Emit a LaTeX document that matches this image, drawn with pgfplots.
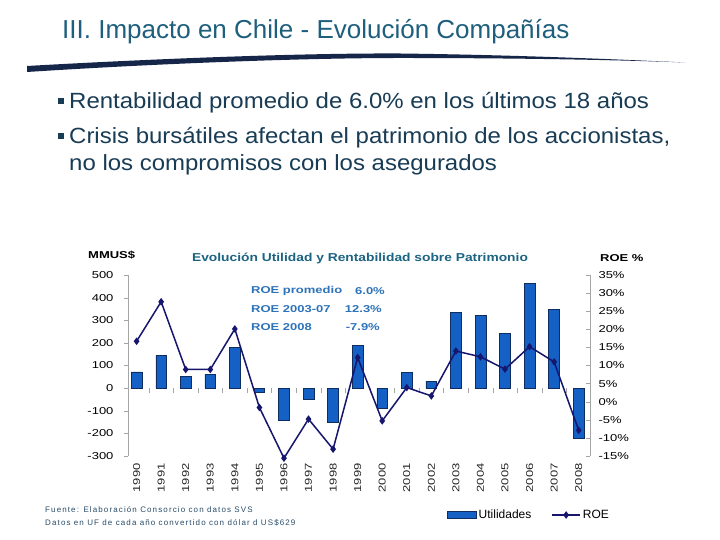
\documentclass[border=0pt]{standalone}
\usepackage{pgfplots}
\pgfplotsset{compat=1.18}
\usepackage{fontspec}
\setmainfont{Liberation Sans}
\newfontfamily\tickfont[FakeStretch=1.3]{Liberation Sans}
\newfontfamily\titfont[FakeStretch=1.2]{Liberation Sans}
\newfontfamily\bulfont[FakeStretch=1.09]{Liberation Sans}
\newfontfamily\footfont[LetterSpace=14]{Liberation Sans}
\definecolor{barblue}{RGB}{20,96,196}
\definecolor{bardark}{RGB}{15,45,95}
\definecolor{roenavy}{RGB}{22,22,110}
\definecolor{titleteal}{RGB}{30,95,125}
\definecolor{charttitle}{RGB}{28,100,130}
\definecolor{roeblue}{RGB}{45,115,185}
\definecolor{bullettext}{RGB}{25,60,85}
\definecolor{axisgray}{RGB}{165,165,165}
\definecolor{swoosh}{RGB}{22,38,72}
\definecolor{footcol}{RGB}{40,75,105}
\pgfplotsset{
  lineleg/.style={legend image code/.code={\draw[mark repeat=2,mark phase=2,##1] plot coordinates {(0pt,0pt) (14pt,0pt) (28pt,0pt)};}},
  barleg/.style={legend image code/.code={\fill[barblue, draw=bardark, line width=0.6pt] (0pt,-3.5pt) rectangle (29pt,3.5pt);}},
}
\begin{document}
\begin{tikzpicture}[x=1pt,y=1pt]
\path[fill=white] (0,0) rectangle (720,540);
% slide title
\node[anchor=base west, text=titleteal, font=\fontsize{26}{30}\selectfont, inner sep=0pt] at (62,501) {III. Impacto en Chile - Evolución Compañías};
\fill[swoosh] (27,468) .. controls (150,476) and (300,482) .. (400,482) .. controls (520,482) and (620,480) .. (685,477.5)
  .. controls (620,480.5) and (520,485) .. (400,486.5) .. controls (300,487) and (150,481) .. (27,474) -- cycle;
% bullets
\fill[bullettext] (58,436) rectangle (64,442);
\fill[bullettext] (58,401) rectangle (64,407);
\node[anchor=base west, text=bullettext, font=\bulfont\fontsize{22}{26}\selectfont, inner sep=0pt] at (69,431) {Rentabilidad promedio de 6.0\% en los últimos 18 años};
\node[anchor=base west, text=bullettext, font=\bulfont\fontsize{22}{26}\selectfont, inner sep=0pt] at (69,396) {Crisis bursátiles afectan el patrimonio de los accionistas,};
\node[anchor=base west, text=bullettext, font=\bulfont\fontsize{22}{26}\selectfont, inner sep=0pt] at (69,369) {no los compromisos con los asegurados};
% chart texts
\node[anchor=west, inner sep=0pt, font=\tickfont\bfseries\fontsize{10}{12}\selectfont] at (88,285) {MMUS\$};
\node[anchor=west, inner sep=0pt, font=\tickfont\bfseries\fontsize{10}{12}\selectfont] at (600,282) {ROE \%};
\node[inner sep=0pt, text=charttitle, font=\titfont\bfseries\fontsize{11.5}{13}\selectfont] at (360,282) {Evolución Utilidad y Rentabilidad sobre Patrimonio};
\node[anchor=west, inner sep=0pt, text=roeblue, font=\tickfont\bfseries\fontsize{10}{12}\selectfont] at (251,249) {ROE promedio};
\node[anchor=west, inner sep=0pt, text=roeblue, font=\tickfont\bfseries\fontsize{10}{12}\selectfont] at (251,231) {ROE 2003-07};
\node[anchor=west, inner sep=0pt, text=roeblue, font=\tickfont\bfseries\fontsize{10}{12}\selectfont] at (251,213) {ROE 2008};
\node[anchor=east, inner sep=0pt, text=roeblue, font=\tickfont\bfseries\fontsize{10}{12}\selectfont] at (385,249) {6.0\%};
\node[anchor=east, inner sep=0pt, text=roeblue, font=\tickfont\bfseries\fontsize{10}{12}\selectfont] at (382,231) {12.3\%};
\node[anchor=east, inner sep=0pt, text=roeblue, font=\tickfont\bfseries\fontsize{10}{12}\selectfont] at (380,213) {-7.9\%};
% footnote
\node[anchor=base west, inner sep=0pt, text=footcol, font=\footfont\fontsize{8}{9}\selectfont] at (45,27) {Fuente: Elaboración Consorcio con datos SVS};
\node[anchor=base west, inner sep=0pt, text=footcol, font=\footfont\fontsize{8}{9}\selectfont] at (45,14) {Datos en UF de cada año convertido con dólar d US\$629};

\begin{axis}[
  at={(128pt,84pt)}, anchor=south west, scale only axis,
  width=462pt, height=181pt,
  xmin=-0.35, xmax=18.46, ymin=-300, ymax=500,
  axis y line*=left, axis x line*=bottom,
  x axis line style={draw=none},
  y axis line style={axisgray},
  ytick={-300,-200,...,500},
  yticklabel={\pgfmathparse{int(round(\tick))}\pgfmathresult},
  xtick={0,...,18},
  xticklabels={1990,1991,1992,1993,1994,1995,1996,1997,1998,1999,2000,2001,2002,2003,2004,2005,2006,2007,2008},
  x tick style={draw=none},
  y tick style={axisgray},
  tick align=outside, major tick length=4pt,
  yticklabel style={font=\tickfont\fontsize{10}{12}\selectfont, xshift=-7pt},
  xticklabel style={rotate=90, anchor=east, text=black!85, font=\tickfont\fontsize{10}{12}\selectfont},
  clip=false,
]
\addplot[ybar, bar width=10.7pt, bar shift=0pt, fill=barblue, draw=bardark, line width=0.6pt] coordinates {
(0,72) (1,146) (2,53) (3,62) (4,179) (5,-18) (6,-143) (7,-50) (8,-150) (9,190)
(10,-87) (11,71) (12,31) (13,333) (14,320) (15,242) (16,463) (17,347) (18,-223)};
\pgfplotsinvokeforeach{0,...,17}{\draw[axisgray] (axis cs:#1.5,0) -- ++(0pt,-5pt);}
\end{axis}

\begin{axis}[
  at={(128pt,84pt)}, anchor=south west, scale only axis,
  width=462pt, height=181pt,
  xmin=-0.35, xmax=18.46, ymin=-15, ymax=35,
  axis y line*=right, axis x line=none,
  y axis line style={axisgray},
  ytick={-15,-10,...,35},
  yticklabel={\pgfmathparse{int(round(\tick))}\pgfmathresult\%},
  y tick style={axisgray},
  tick align=inside, major tick length=4pt,
  yticklabel style={font=\tickfont\fontsize{10}{12}\selectfont, xshift=5pt},
  clip=false,
  legend columns=2,
  legend style={draw=none, fill=none, at={(axis description cs:0.868,-0.326)}, anchor=center,
    font=\fontsize{12}{14}\selectfont, /tikz/every even column/.append style={column sep=18pt}},
]
\addlegendimage{barleg}
\addlegendentry{Utilidades}
\addplot[roenavy, line width=1.5pt, mark=diamond*, mark size=2.6pt, lineleg] coordinates {
(0,16.7) (1,27.6) (2,8.9) (3,8.9) (4,20.1) (5,-1.6) (6,-15.6) (7,-4.8) (8,-13.1) (9,12.2)
(10,-5.3) (11,3.9) (12,1.6) (13,14.0) (14,12.4) (15,9.0) (16,15.2) (17,11.0) (18,-7.9)};
\addlegendentry{ROE}
\end{axis}
\end{tikzpicture}
\end{document}
